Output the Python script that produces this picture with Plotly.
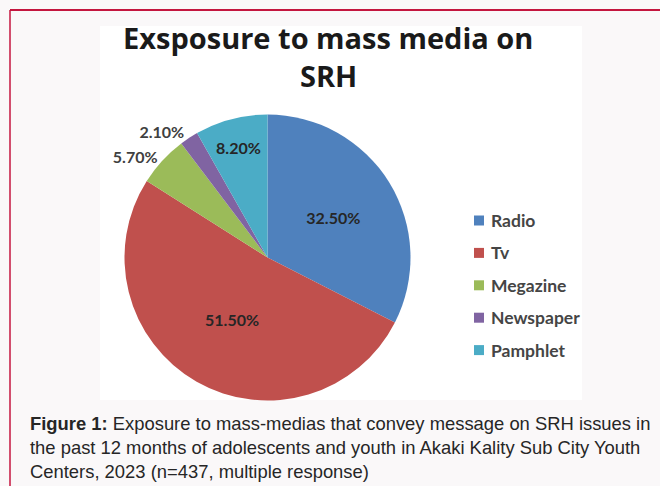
import plotly.graph_objects as go

W, H = 660, 486

# ---- data ----
categories = ["Radio", "Tv", "Megazine", "Newspaper", "Pamphlet"]
values = [32.5, 51.5, 5.7, 2.1, 8.2]
colors = ["#4f81bd", "#c0504d", "#9bbb59", "#8064a2", "#4bacc6"]
label_positions = ["inside", "inside", "outside", "outside", "inside"]

title_lines = ["Exsposure to mass media on", "SRH"]
caption_text = ("<b>Figure 1:</b> Exposure to mass-medias that convey message on SRH issues in<br>"
                "the past 12 months of adolescents and youth in Akaki Kality Sub City Youth<br>"
                "Centers, 2023 (n=437, multiple response)")


def px(x):
    return x / W


def py(y):
    return 1 - y / H


# pie geometry (pixels)
cx, cy, r = 267.5, 257.5, 143

fig = go.Figure()
fig.add_trace(go.Pie(
    labels=categories,
    values=values,
    sort=False,
    direction="clockwise",
    rotation=0,
    marker=dict(colors=colors, line=dict(width=0)),
    texttemplate="%{value:.2f}%",
    textposition=label_positions,
    insidetextorientation="horizontal",
    insidetextfont=dict(family="Lato", size=16, color="#262626", weight="bold"),
    outsidetextfont=dict(family="Lato", size=16, color="#404040", weight="bold"),
    domain=dict(x=[px(cx - r), px(cx + r)], y=[py(cy + r), py(cy - r)]),
    showlegend=False,
    hoverinfo="label+percent",
))

shapes = [
    # white chart image area
    dict(type="rect", xref="paper", yref="paper", x0=px(100), x1=px(582), y0=py(400), y1=py(26),
         fillcolor="white", line=dict(width=0), layer="below"),
    # top border
    dict(type="line", xref="paper", yref="paper", x0=px(10), x1=1, y0=py(10), y1=py(10),
         line=dict(color="#c4163f", width=2)),
    # left border
    dict(type="line", xref="paper", yref="paper", x0=px(10), x1=px(10), y0=py(10), y1=0,
         line=dict(color="#c4163f", width=1.5)),
]

annotations = []
title_y = [38, 76]
for line, ty in zip(title_lines, title_y):
    annotations.append(dict(text=line, x=px(328), y=py(ty), xref="paper", yref="paper", showarrow=False,
                            xanchor="center", yanchor="middle", align="center",
                            font=dict(family="Open Sans", size=29, color="#1a1a1a", weight="bold")))

annotations.append(dict(text=caption_text, x=px(28), y=py(447), xref="paper", yref="paper", showarrow=False,
                        xanchor="left", yanchor="middle", align="left",
                        font=dict(family="Liberation Sans", size=18.4, color="#262626")))

# manual legend
leg_x, leg_y0, leg_step, box = 474, 220.5, 32.4, 10
for i, (cat, col) in enumerate(zip(categories, colors)):
    yc = leg_y0 + i * leg_step
    shapes.append(dict(type="rect", xref="paper", yref="paper",
                       x0=px(leg_x), x1=px(leg_x + box), y0=py(yc + box / 2), y1=py(yc - box / 2),
                       fillcolor=col, line=dict(width=0)))
    annotations.append(dict(text=cat, x=px(leg_x + box + 5), y=py(yc), xref="paper", yref="paper",
                            showarrow=False, xanchor="left", yanchor="middle",
                            font=dict(family="Lato", size=17.5, color="#454545", weight="bold")))

fig.update_layout(
    width=W, height=H,
    margin=dict(l=0, r=0, t=0, b=0),
    paper_bgcolor="#faf8f9",
    plot_bgcolor="#faf8f9",
    shapes=shapes,
    annotations=annotations,
)

fig.write_html("out.html")
